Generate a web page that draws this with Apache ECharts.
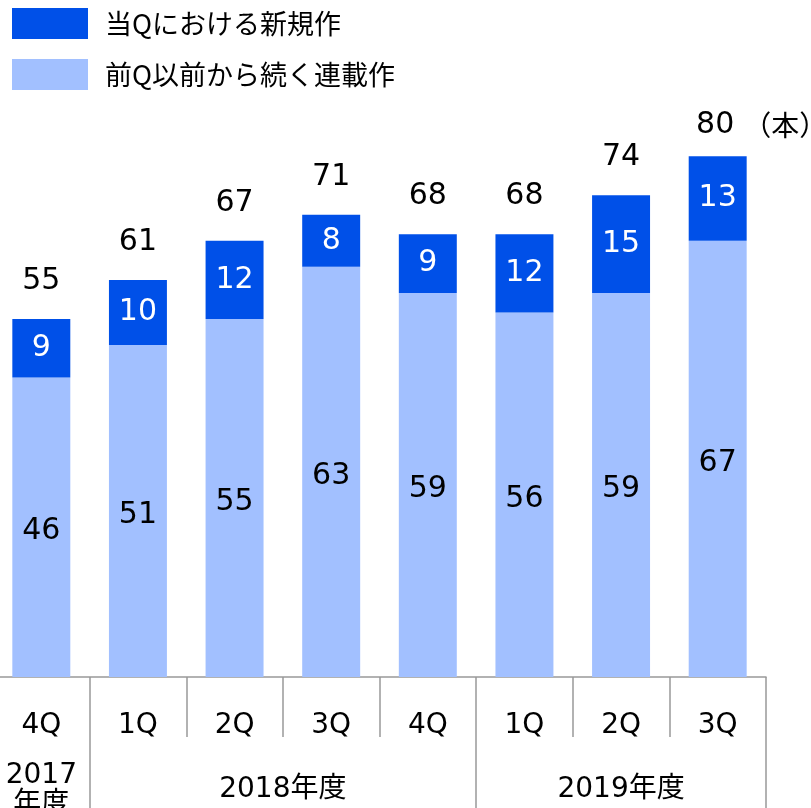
<!DOCTYPE html>
<html><head><meta charset="utf-8">
<script src="https://cdn.jsdelivr.net/npm/echarts@6/dist/echarts.min.js"></script>
<style>html,body{margin:0;padding:0;background:#fff}#c{width:811px;height:808px}</style>
</head><body><div id="c"></div>
<script>
const categories = ['4Q','1Q','2Q','3Q','4Q','1Q','2Q','3Q'];
const newWorks = [9,10,12,8,9,12,15,13];
const continuing = [46,51,55,63,59,56,59,67];
const seriesNames = ['当Qにおける新規作','前Q以前から続く連載作'];
const yearGroups = ['2017\n年度','2018年度','2019年度'];
const yearGroupSizes = [1,4,3];
const unitLabel = '（本）';

const totals = newWorks.map((v,i)=>v+continuing[i]);
const FONT = '"DejaVu Sans","Noto Sans CJK JP",sans-serif';
const CJK = '"Noto Sans CJK JP",sans-serif';
const dark = '#0050E8', light = '#A2C0FF';

const bounds = [0]; yearGroupSizes.forEach(s=>bounds.push(bounds[bounds.length-1]+s));
const centers = yearGroupSizes.map((s,i)=>bounds[i]+s/2);

const chart = echarts.init(document.getElementById('c'));
chart.setOption({
  animation:false,
  textStyle:{fontFamily:FONT},
  legend:{
    orient:'vertical', left:7, top:3, itemWidth:76, itemHeight:31, itemGap:20,
    icon:'rect', data:seriesNames,
    textStyle:{fontSize:27, color:'#000', fontFamily:CJK, padding:[0,0,0,12]}
  },
  grid:{left:-7, right:45, top:26, bottom:131, containLabel:false, outerBoundsMode:'none'},
  xAxis:[
    {type:'category', data:categories, position:'bottom',
     axisLine:{lineStyle:{color:'#999',width:1.5}},
     axisTick:{show:true, length:60, lineStyle:{color:'#999',width:1.5}},
     axisLabel:{fontSize:28, color:'#000', margin:49, verticalAlign:'middle', fontFamily:FONT}
    },
    {type:'value', min:0, max:categories.length, position:'bottom',
     splitLine:{show:false},
     axisLine:{show:false},
     axisTick:{show:true, length:140, customValues:bounds.slice(1), lineStyle:{color:'#999',width:1.5}},
     axisLabel:{fontSize:28, color:'#000', margin:113, verticalAlign:'middle', lineHeight:29,
       customValues:centers, showMinLabel:true, showMaxLabel:true,
       formatter:(v)=>{const i=centers.indexOf(v); return i>=0?yearGroups[i]:'';}}
    }
  ],
  yAxis:{type:'value', min:0, max:100, show:false, splitLine:{show:false}},
  series:[
    {name:seriesNames[1], type:'bar', stack:'s', data:continuing, barWidth:'60%',
     itemStyle:{color:light},
     label:{show:true, position:'inside', offset:[0,4], fontSize:30, color:'#000', fontFamily:FONT}},
    {name:seriesNames[0], type:'bar', stack:'s', data:newWorks, barWidth:'60%',
     itemStyle:{color:dark},
     label:{show:true, position:'inside', fontSize:30, color:'#fff', fontFamily:FONT}},
    {name:'total', type:'scatter', data:totals.map((t,i)=>{
        const d={value:t};
        if(i===totals.length-1){ d.label={formatter:'{a|'+t+'}{u|'+unitLabel+'}', offset:[44,7]}; }
        return d;}),
     symbolSize:0, silent:true, itemStyle:{opacity:1},
     label:{show:true, position:'top', distance:23, fontSize:30, color:'#000', fontFamily:FONT,
       rich:{a:{fontSize:30,color:'#000',fontFamily:FONT,padding:[0,9,0,0]}, u:{fontSize:28,color:'#000',fontFamily:CJK}}}}
  ]
});
</script></body></html>
